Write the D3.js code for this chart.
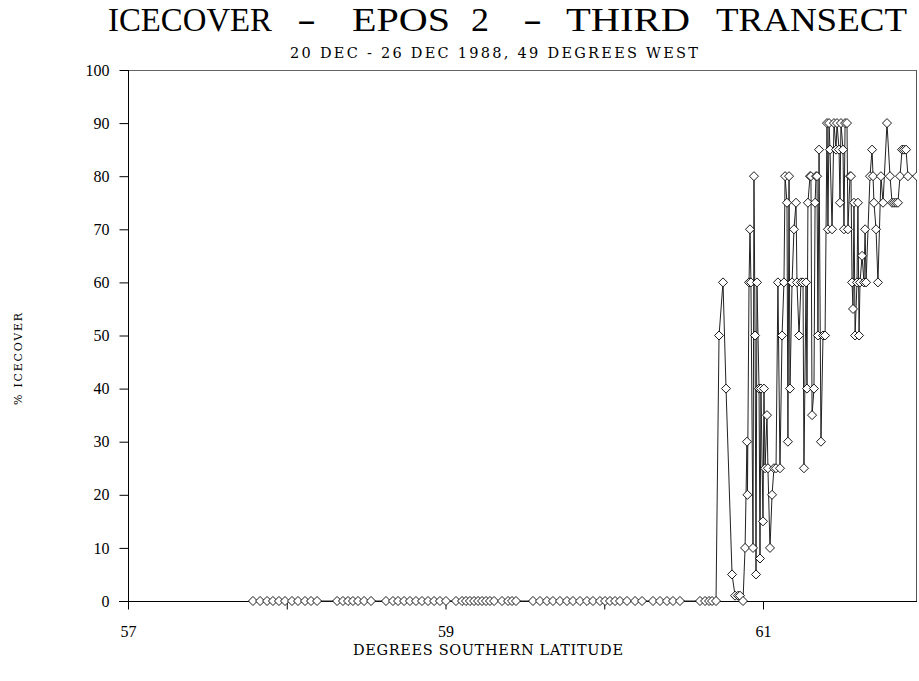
<!DOCTYPE html>
<html>
<head>
<meta charset="utf-8">
<script src="https://cdn.jsdelivr.net/npm/d3@7"></script>
<style>
  html, body { margin: 0; padding: 0; background: #fff; }
  svg { display: block; }
  text { fill: #000; }
</style>
</head>
<body>
<svg id="chart" width="919" height="681"></svg>
<script>
// ---- data ----
const latitude = [
  57.787, 57.832, 57.876, 57.913, 57.951, 57.989, 58.033, 58.071, 58.115, 58.153, 58.191,
  58.317, 58.354, 58.386, 58.417, 58.449, 58.487, 58.531,
  58.625, 58.669, 58.701, 58.739, 58.776, 58.814, 58.852, 58.890, 58.928, 58.965, 59.003,
  59.066, 59.104, 59.129, 59.154, 59.180, 59.205, 59.230, 59.255, 59.280, 59.306, 59.356, 59.394, 59.419, 59.444,
  59.551, 59.595, 59.639, 59.677, 59.721, 59.765, 59.803, 59.847, 59.891, 59.929, 59.973, 60.005, 60.036, 60.068, 60.099, 60.143,
  60.194, 60.238,
  60.307, 60.351, 60.395, 60.433, 60.477,
  60.603, 60.635, 60.660, 60.679, 60.704,
  60.723, 60.748, 60.767, 60.805, 60.824, 60.843, 60.855, 60.874, 60.887, 60.899,
  60.902, 60.912, 60.918, 60.924, 60.937, 60.943, 60.950, 60.956, 60.962, 60.975,
  60.981, 60.987, 61.000, 61.006, 61.013, 61.025, 61.031, 61.044, 61.057, 61.069,
  61.082, 61.094, 61.107, 61.120, 61.132, 61.139, 61.151, 61.157, 61.164, 61.170,
  61.183, 61.195, 61.208, 61.214, 61.227, 61.239, 61.252, 61.258, 61.271, 61.277,
  61.283, 61.296, 61.302, 61.309, 61.321, 61.328, 61.334, 61.340, 61.346, 61.353,
  61.365, 61.378, 61.391, 61.403, 61.409, 61.416, 61.422, 61.435, 61.447, 61.460,
  61.466, 61.479, 61.485, 61.491, 61.504, 61.510, 61.517, 61.529, 61.535, 61.548,
  61.554, 61.561, 61.567, 61.573, 61.580, 61.592, 61.598, 61.605, 61.611, 61.624,
  61.636, 61.643, 61.649, 61.674, 61.687, 61.693, 61.699, 61.712, 61.724, 61.743,
  61.756, 61.781, 61.800, 61.813, 61.825, 61.838, 61.850, 61.863, 61.876, 61.888,
  61.901, 61.913, 61.970
];
const icecover = [
  0, 0, 0, 0, 0, 0, 0, 0, 0, 0, 0,
  0, 0, 0, 0, 0, 0, 0,
  0, 0, 0, 0, 0, 0, 0, 0, 0, 0, 0,
  0, 0, 0, 0, 0, 0, 0, 0, 0, 0, 0, 0, 0, 0,
  0, 0, 0, 0, 0, 0, 0, 0, 0, 0, 0, 0, 0, 0, 0, 0,
  0, 0,
  0, 0, 0, 0, 0,
  0, 0, 0, 0, 0,
  50, 60, 40, 5, 1, 1, 1, 0, 10, 30,
  20, 60, 70, 60, 10, 80, 50, 5, 60, 40,
  8, 40, 15, 40, 25, 35, 25, 10, 20, 25,
  25, 60, 25, 50, 60, 80, 75, 30, 80, 40,
  60, 70, 75, 60, 50, 60, 60, 25, 60, 40,
  75, 80, 80, 35, 40, 75, 80, 80, 50, 85,
  30, 50, 50, 90, 70, 90, 85, 70, 90, 85,
  90, 85, 75, 90, 85, 70, 90, 90, 70, 80,
  80, 60, 55, 75, 50, 60, 75, 50, 60, 65,
  60, 70, 60, 80, 85, 80, 75, 70, 60, 80,
  75, 90, 80, 75, 75, 75, 75, 80, 85, 85,
  85, 80, 80
];
const xTicks = [57, 58, 59, 60, 61];
const xTickLabels = ["57", "", "59", "", "61"];
const yTicks = [0, 10, 20, 30, 40, 50, 60, 70, 80, 90, 100];

const titleText = "ICECOVER - EPOS 2 - THIRD TRANSECT";
const subtitleText = "20 DEC - 26 DEC 1988, 49 DEGREES WEST";
const xTitleText = "DEGREES SOUTHERN LATITUDE";
const yTitleText = "% ICECOVER";

// ---- layout ----
const svg = d3.select("#chart");
const plot = { left: 128, right: 917, top: 70, bottom: 601 };
const serif = "'Liberation Serif', 'DejaVu Serif', serif";
const wideSerif = "'DejaVu Serif', 'Liberation Serif', serif";

const x = d3.scaleLinear().domain([57, 61.97]).range([plot.left, plot.right]);
const y = d3.scaleLinear().domain([0, 100]).range([plot.bottom, plot.top]);

const data = latitude.map((d, i) => ({ lat: d, v: icecover[i] }));

// frame (top & right)
svg.append("line").attr("x1", plot.left).attr("x2", plot.right)
  .attr("y1", plot.top + 0.5).attr("y2", plot.top + 0.5)
  .attr("stroke", "#666").attr("stroke-width", 1);
svg.append("line").attr("x1", plot.right - 0.5).attr("x2", plot.right - 0.5)
  .attr("y1", plot.top).attr("y2", plot.bottom)
  .attr("stroke", "#555").attr("stroke-width", 1);

// axes
const yAxis = d3.axisLeft(y).tickValues(yTicks).tickSize(9).tickPadding(10);
const gy = svg.append("g").attr("transform", `translate(${plot.left + 0.5},0)`).call(yAxis);
gy.select(".domain").remove();
gy.selectAll("line").attr("stroke", "#000");
gy.selectAll("text").attr("font-family", serif).attr("font-size", 16).attr("fill", "#000");

const xAxis = d3.axisBottom(x).tickValues(xTicks)
  .tickFormat((d, i) => xTickLabels[i]).tickSize(8).tickPadding(16);
const gx = svg.append("g").attr("transform", `translate(0,${plot.bottom + 0.5})`).call(xAxis);
gx.select(".domain").remove();
gx.selectAll("line").attr("stroke", "#000");
gx.selectAll("text").attr("font-family", serif).attr("font-size", 16).attr("fill", "#000");

// axis lines
svg.append("line").attr("x1", plot.left + 0.5).attr("x2", plot.left + 0.5)
  .attr("y1", plot.top).attr("y2", plot.bottom + 1)
  .attr("stroke", "#000").attr("stroke-width", 1);
svg.append("line").attr("x1", plot.left - 9).attr("x2", plot.right)
  .attr("y1", plot.bottom + 0.5).attr("y2", plot.bottom + 0.5)
  .attr("stroke", "#000").attr("stroke-width", 1.2);

// clip
svg.append("defs").append("clipPath").attr("id", "clip")
  .append("rect").attr("x", plot.left - 10).attr("y", plot.top - 10)
  .attr("width", plot.right - plot.left + 10).attr("height", plot.bottom - plot.top + 20);

const g = svg.append("g").attr("clip-path", "url(#clip)");

const line = d3.line().x(d => x(d.lat)).y(d => y(d.v));
g.append("path").datum(data).attr("d", line)
  .attr("fill", "none").attr("stroke", "#222").attr("stroke-width", 1);

const sym = d3.symbol().type(d3.symbolDiamond2).size(52);
g.selectAll("path.pt").data(data).join("path").attr("class", "pt")
  .attr("transform", d => `translate(${x(d.lat)},${y(d.v)})`)
  .attr("d", sym)
  .attr("fill", "#fff").attr("stroke", "#000").attr("stroke-width", 0.9);

// title: each word placed along the line, glyphs condensed
const titleWords = titleText.split(" ");
const titleSpans = [[108, 272], [297, 316], [352, 450], [471, 489], [523, 542], [566, 690], [716, 907]];
const sx = 0.82;
const tg = svg.append("g").attr("class", "title");
titleWords.forEach((w, i) => {
  const [x0, x1] = titleSpans[i];
  tg.append("g").attr("transform", `translate(${x0},31) scale(${sx},1)`)
    .append("text").attr("x", 0).attr("y", 0)
    .attr("font-family", serif).attr("font-size", 33)
    .attr("textLength", (x1 - x0) / sx).attr("lengthAdjust", "spacingAndGlyphs")
    .text(w);
});

svg.append("text").attr("x", 290).attr("y", 58)
  .attr("font-family", wideSerif).attr("font-size", 14.5)
  .attr("textLength", 408).attr("lengthAdjust", "spacing")
  .text(subtitleText);

svg.append("text").attr("x", 353).attr("y", 655)
  .attr("font-family", wideSerif).attr("font-size", 14.5)
  .attr("textLength", 270).attr("lengthAdjust", "spacing")
  .text(xTitleText);

svg.append("text").attr("transform", "translate(22,405) rotate(-90)")
  .attr("font-family", wideSerif).attr("font-size", 11)
  .attr("textLength", 92).attr("lengthAdjust", "spacing")
  .style("white-space", "pre").text(yTitleText);
</script>
</body>
</html>
